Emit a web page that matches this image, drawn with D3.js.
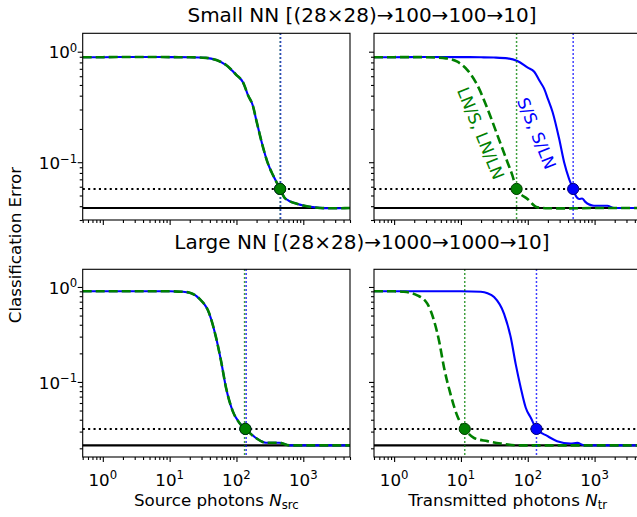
<!DOCTYPE html>
<html>
<head>
<meta charset="utf-8">
<style>
    body { margin: 0; background: #fff; }
    svg { font-family: "DejaVu Sans", sans-serif; }
    .tick line { stroke: #000; stroke-width: 1.1; }
    .domain { display: none; }
</style>
<script src="https://d3js.org/d3.v7.min.js"></script>
</head>
<body>
<svg width="637" height="517"></svg>
<script>
// values: photon counts and classification error
var smallSrcN   = [0.5, 1, 2, 5, 10, 20, 35, 50, 70, 100, 125, 150, 175, 200, 250, 300, 350, 450, 520, 600, 800, 1000, 1500, 2500, 5000];
var smallSrcErr = [0.89, 0.892, 0.895, 0.895, 0.893, 0.89, 0.88, 0.84, 0.757, 0.615, 0.53, 0.40, 0.328, 0.234, 0.136, 0.095, 0.077, 0.0573, 0.048, 0.045, 0.042, 0.0405, 0.039, 0.0383, 0.0385];

var smallTrSN   = [0.5, 1, 3, 10, 20, 31, 50, 70, 100, 125, 150, 175, 200, 235, 295, 350, 415, 478, 520, 590, 650, 720, 980, 1550, 1950, 5000];
var smallTrSErr = [0.89, 0.892, 0.895, 0.893, 0.89, 0.885, 0.87, 0.823, 0.716, 0.658, 0.545, 0.465, 0.374, 0.285, 0.163, 0.1, 0.0707, 0.0573, 0.05, 0.0465, 0.047, 0.044, 0.0404, 0.0404, 0.0385, 0.0385];

var smallTrLNN   = [0.5, 1, 2, 4.4, 6, 8.85, 12.5, 17.6, 24.9, 35.2, 49.7, 59, 68, 99, 140, 200, 400, 1000, 5000];
var smallTrLNErr = [0.89, 0.892, 0.893, 0.885, 0.87, 0.811, 0.682, 0.498, 0.306, 0.175, 0.1, 0.0757, 0.0573, 0.0465, 0.039, 0.0383, 0.0382, 0.0385, 0.0385];

var largeSrcN   = [0.5, 1, 3, 10, 15.6, 20, 27.8, 39.3, 49.4, 58.7, 69.8, 87.9, 110.7, 136, 195, 275, 436, 616, 1000, 5000];
var largeSrcErr = [0.9, 0.902, 0.902, 0.9, 0.89, 0.87, 0.753, 0.522, 0.295, 0.167, 0.087, 0.0493, 0.037, 0.032, 0.0257, 0.0229, 0.0229, 0.0215, 0.0215, 0.0215];

var largeTrSN   = [0.5, 1, 3, 10, 19.8, 25, 31.3, 44.2, 55.6, 66, 78.5, 93.3, 111, 135, 195, 275, 436, 550, 700, 1000, 5000];
var largeTrSErr = [0.9, 0.902, 0.902, 0.9, 0.89, 0.86, 0.784, 0.522, 0.295, 0.154, 0.087, 0.0535, 0.0419, 0.032, 0.027, 0.0238, 0.0225, 0.0228, 0.0215, 0.0215, 0.0215];

var largeTrLNN   = [0.5, 1, 1.4, 2.22, 3.14, 3.95, 4.7, 5.58, 7.0, 8.83, 11.4, 15.7, 24.9, 39.4, 70.8, 200, 5000];
var largeTrLNErr = [0.9, 0.9, 0.89, 0.817, 0.667, 0.443, 0.272, 0.142, 0.074, 0.0437, 0.032, 0.0257, 0.0238, 0.0225, 0.0215, 0.0215, 0.0215];

// target error (dotted) and best error (solid)
var smallTarget = 0.0573, smallBest = 0.0385;
var largeTarget = 0.032,  largeBest = 0.0215;

// photon counts where each curve reaches the target
var smallSrcCross = 450, smallTrSCross = 478, smallTrLNCross = 68;
var largeSrcCross = 136, largeTrSCross = 135, largeTrLNCross = 11.4;

var xMajor = [1, 10, 100, 1000];
var yMajor = [0.1, 1];
var xTickExp = ["0", "1", "2", "3"];
var yTickExp = ["\u22121", "0"];

var blue = "#0000ff", green = "#008000";

var svg = d3.select("svg");
var pw = 267.3;

var x = d3.scaleLog().domain([0.5, 5000]).range([0, pw]);
var yTop = d3.scaleLog().domain([0.030, 1.467]).range([186.7, 0]);
var yBot = d3.scaleLog().domain([0.0162, 1.535]).range([187.7, 0]);

function minors(lo, hi) {
    var out = [];
    for (var e = -3; e <= 4; e++) {
        for (var m = 2; m <= 9; m++) {
            var v = m * Math.pow(10, e);
            if (v >= lo * 0.999 && v <= hi * 1.001) out.push(v);
        }
    }
    return out;
}

function panel(px, py, y, showY, showX, xlab) {
    var h = y.range()[0];
    var g = svg.append("g").attr("transform", "translate(" + px + "," + py + ")");
    g.ph = h;

    // x ticks
    g.append("g").attr("transform", "translate(0," + h + ")")
        .call(d3.axisBottom(x).tickValues(minors(0.5, 5000)).tickSize(3).tickFormat(""));
    g.append("g").attr("transform", "translate(0," + h + ")")
        .call(d3.axisBottom(x).tickValues(xMajor).tickSize(5).tickFormat(""));
    // y ticks
    g.append("g").call(d3.axisLeft(y).tickValues(minors(y.domain()[0], y.domain()[1])).tickSize(3).tickFormat(""));
    g.append("g").call(d3.axisLeft(y).tickValues(yMajor).tickSize(5).tickFormat(""));

    if (showX) {
        xMajor.forEach(function (v, i) {
            var t = g.append("text").attr("x", x(v)).attr("y", h + 29)
                .attr("text-anchor", "middle").attr("font-size", "16.7px").text("10");
            t.append("tspan").attr("dy", -6.5).attr("font-size", "11.7px").text(xTickExp[i]);
        });
        var t = g.append("text").attr("x", pw / 2).attr("y", h + 49)
            .attr("text-anchor", "middle").attr("font-size", "16.7px").text(xlab[0] + " ");
        t.append("tspan").attr("font-style", "italic").text("N");
        t.append("tspan").attr("dy", 3.5).attr("font-size", "11.7px").text(xlab[1]);
    }
    if (showY) {
        yMajor.forEach(function (v, i) {
            var t = g.append("text").attr("x", -5.4).attr("y", y(v) + 6.8)
                .attr("text-anchor", "end").attr("font-size", "16.7px").text("10");
            t.append("tspan").attr("dy", -6.5).attr("font-size", "11.7px").text(yTickExp[i]);
        });
    }
    return g;
}

function hline(g, y, v, dash) {
    g.append("line").attr("x1", 0).attr("x2", pw).attr("y1", y(v)).attr("y2", y(v))
        .attr("stroke", "#000").attr("stroke-width", 2.1)
        .attr("stroke-dasharray", dash ? "2.1,3.3" : null);
}

function curve(g, y, xs, ys, color, dashed) {
    var line = d3.line().x(function (d) { return x(d[0]); }).y(function (d) { return y(d[1]); })
        .curve(d3.curveMonotoneX);
    g.append("path").datum(d3.zip(xs, ys)).attr("d", line)
        .attr("fill", "none").attr("stroke", color)
        .attr("stroke-width", dashed ? 2.6 : 2.1)
        .attr("stroke-dasharray", dashed ? "9,4" : null);
}

function vline(g, v, color, shift) {
    var px = x(v) + (shift || 0);
    g.append("line").attr("x1", px).attr("x2", px).attr("y1", 0).attr("y2", g.ph)
        .attr("stroke", color).attr("stroke-width", 1.5)
        .attr("stroke-dasharray", "1.5,2.5");
}

function marker(g, y, v, t, color, edge) {
    g.append("circle").attr("cx", x(v)).attr("cy", y(t)).attr("r", 5.6)
        .attr("fill", color).attr("stroke", edge).attr("stroke-width", 1);
}

function frame(g) {
    g.append("rect").attr("width", pw).attr("height", g.ph)
        .attr("fill", "none").attr("stroke", "#000").attr("stroke-width", 1.1);
}

// top-left: small NN, source photons
var g1 = panel(82.7, 33.3, yTop, true, false);
hline(g1, yTop, smallTarget, true);
hline(g1, yTop, smallBest, false);
curve(g1, yTop, smallSrcN, smallSrcErr, blue, false);
curve(g1, yTop, smallSrcN, smallSrcErr, green, true);
vline(g1, smallSrcCross, blue, 0.5);
vline(g1, smallSrcCross, "#1f5f70", 0);
marker(g1, yTop, smallSrcCross, smallTarget, blue, "#00007a");
marker(g1, yTop, smallSrcCross, smallTarget, green, "#003d00");
frame(g1);

// top-right: small NN, transmitted photons
var g2 = panel(374, 33.3, yTop, false, false);
hline(g2, yTop, smallTarget, true);
hline(g2, yTop, smallBest, false);
curve(g2, yTop, smallTrSN, smallTrSErr, blue, false);
curve(g2, yTop, smallTrLNN, smallTrLNErr, green, true);
vline(g2, smallTrLNCross, green, 0);
vline(g2, smallTrSCross, blue, 0);
marker(g2, yTop, smallTrLNCross, smallTarget, green, "#003d00");
marker(g2, yTop, smallTrSCross, smallTarget, blue, "#00007a");
frame(g2);
g2.append("text").attr("transform", "translate(" + (480.8 - 374) + "," + (133.3 - 33.3) + ") rotate(67.7)")
    .attr("text-anchor", "middle").attr("dominant-baseline", "central")
    .attr("font-size", "16.7px").attr("fill", green).text("LN/S, LN/LN");
g2.append("text").attr("transform", "translate(" + (536.7 - 374) + "," + (133.3 - 33.3) + ") rotate(67.7)")
    .attr("text-anchor", "middle").attr("dominant-baseline", "central")
    .attr("font-size", "16.7px").attr("fill", blue).text("S/S, S/LN");

// bottom-left: large NN, source photons
var g3 = panel(82.7, 269.3, yBot, true, true, ["Source photons", "src"]);
hline(g3, yBot, largeTarget, true);
hline(g3, yBot, largeBest, false);
curve(g3, yBot, largeSrcN, largeSrcErr, blue, false);
curve(g3, yBot, largeSrcN, largeSrcErr, green, true);
vline(g3, largeSrcCross, green, -0.8);
vline(g3, largeSrcCross, blue, 0.8);
marker(g3, yBot, largeSrcCross, largeTarget, blue, "#00007a");
marker(g3, yBot, largeSrcCross, largeTarget, green, "#003d00");
frame(g3);

// bottom-right: large NN, transmitted photons
var g4 = panel(374, 269.3, yBot, false, true, ["Transmitted photons", "tr"]);
hline(g4, yBot, largeTarget, true);
hline(g4, yBot, largeBest, false);
curve(g4, yBot, largeTrSN, largeTrSErr, blue, false);
curve(g4, yBot, largeTrLNN, largeTrLNErr, green, true);
vline(g4, largeTrLNCross, green, 0);
vline(g4, largeTrSCross, blue, 0);
marker(g4, yBot, largeTrLNCross, largeTarget, green, "#003d00");
marker(g4, yBot, largeTrSCross, largeTarget, blue, "#00007a");
frame(g4);

// titles and shared y label
svg.append("text").attr("x", 362).attr("y", 22).attr("text-anchor", "middle")
    .attr("font-size", "20px").text("Small NN [(28\u00d728)\u2192100\u2192100\u219210]");
svg.append("text").attr("x", 362).attr("y", 249).attr("text-anchor", "middle")
    .attr("font-size", "20px").text("Large NN [(28\u00d728)\u21921000\u21921000\u219210]");
svg.append("text").attr("transform", "translate(20.7,245) rotate(-90)").attr("text-anchor", "middle")
    .attr("font-size", "16.7px").text("Classification Error");
</script>
</body>
</html>
